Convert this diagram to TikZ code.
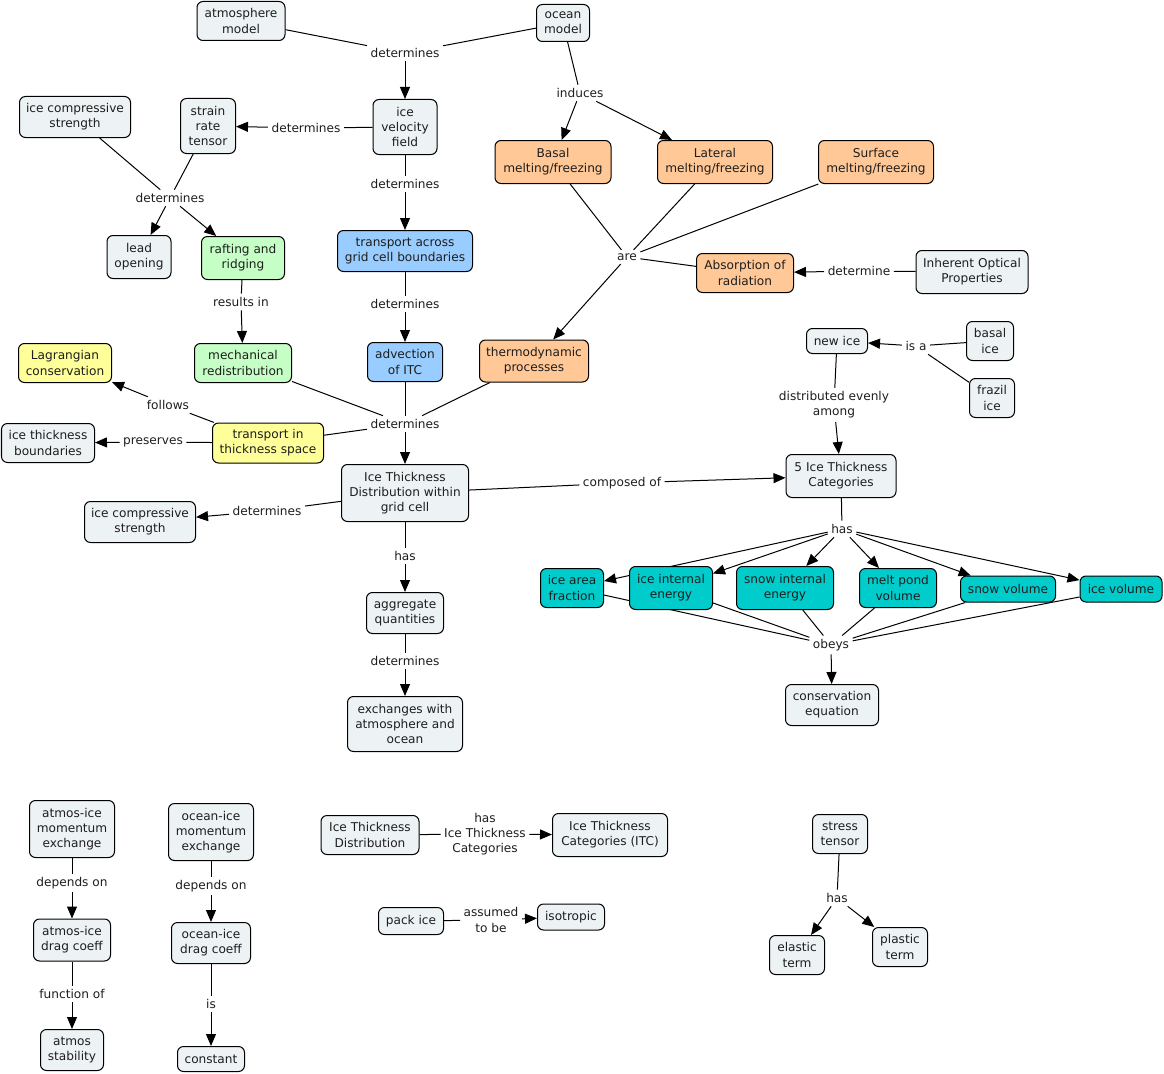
\documentclass[tikz,border=0pt]{standalone}
\usepackage{fontspec}
\setmainfont{DejaVu Sans}
\usetikzlibrary{arrows.meta}
\pgfdeclarelayer{bg}
\pgfsetlayers{bg,main}
\definecolor{cgray}{RGB}{237,243,245}
\definecolor{corange}{RGB}{255,200,150}
\definecolor{cgreen}{RGB}{198,255,198}
\definecolor{cblue}{RGB}{153,204,255}
\definecolor{cyellow}{RGB}{255,255,153}
\definecolor{cteal}{RGB}{0,204,204}
\definecolor{txt}{RGB}{30,30,30}
\tikzset{
  cn/.style={draw=black, line width=0.75pt, rounded corners=4.5pt, fill=cgray, align=center,
    inner sep=1pt, font=\fontsize{9.1}{11.3}\selectfont, text=txt},
  sz/.style 2 args={minimum width={#1*0.75pt}, minimum height={#2*0.75pt}},
  lb/.style={align=center, inner sep=2.5pt, font=\fontsize{9.1}{11.3}\selectfont, text=txt},
  ln/.style={line width=0.75pt, draw=black},
  ar/.style={ln, -{Triangle[length=9pt,width=7.5pt]}},
}
\begin{document}
\begin{tikzpicture}[x=0.75pt,y=-0.75pt]
\useasboundingbox (0,0) rectangle (1164,1074);
% ---------- concept nodes ----------
\node[cn, sz={88}{39}] (atm) at (241,21) {atmosphere\\model};
\node[cn, sz={53}{37}] (ocean) at (563,23) {ocean\\model};
\node[cn, sz={64}{55}] (ivf) at (405,127) {ice\\velocity\\field};
\node[cn, sz={55}{55}] (srt) at (208,126) {strain\\rate\\tensor};
\node[cn, sz={111}{41}] (ics1) at (75,117) {ice compressive\\strength};
\node[cn, sz={64}{43}] (lead) at (139,257) {lead\\opening};
\node[cn, sz={83}{43}, fill=cgreen] (raft) at (243,258) {rafting and\\ridging};
\node[cn, sz={116}{43}, fill=corange] (basal) at (553,162) {Basal\\melting/freezing};
\node[cn, sz={115}{43}, fill=corange] (lateral) at (715,162) {Lateral\\melting/freezing};
\node[cn, sz={115}{43}, fill=corange] (surface) at (876,162) {Surface\\melting/freezing};
\node[cn, sz={135}{41}, fill=cblue] (tagcb) at (405,251) {transport across\\grid cell boundaries};
\node[cn, sz={97}{39}, fill=corange] (absr) at (745,273) {Absorption of\\radiation};
\node[cn, sz={112}{43}] (iop) at (972,272) {Inherent Optical\\Properties};
\node[cn, sz={97}{39}, fill=cgreen] (mech) at (243,363) {mechanical\\redistribution};
\node[cn, sz={75}{39}, fill=cblue] (adv) at (405,362) {advection\\of ITC};
\node[cn, sz={109}{42}, fill=corange] (thermo) at (534,361) {thermodynamic\\processes};
\node[cn, sz={93}{39}, fill=cyellow] (lagr) at (65,363) {Lagrangian\\conservation};
\node[cn, sz={111}{40}, fill=cyellow] (tts) at (268,443) {transport in\\thickness space};
\node[cn, sz={93}{39}] (itb) at (48,443) {ice thickness\\boundaries};
\node[cn, sz={127}{57}] (itd) at (405,493) {Ice Thickness\\Distribution within\\grid cell};
\node[cn, sz={110}{43}] (five) at (841,476) {5 Ice Thickness\\Categories};
\node[cn, sz={61}{25}] (newice) at (837,341) {new ice};
\node[cn, sz={47}{39}] (basalice) at (990,341) {basal\\ice};
\node[cn, sz={45}{39}] (frazil) at (992,398) {frazil\\ice};
\node[cn, sz={111}{41}] (ics2) at (140,522) {ice compressive\\strength};
\node[cn, sz={77}{41}] (agg) at (405,613) {aggregate\\quantities};
\node[cn, sz={115}{55}] (exch) at (405,724) {exchanges with\\atmosphere and\\ocean};
\node[cn, sz={63}{39}, fill=cteal] (iaf) at (572,588) {ice area\\fraction};
\node[cn, sz={83}{43}, fill=cteal] (iie) at (671,588) {ice internal\\energy};
\node[cn, sz={97}{43}, fill=cteal] (sie) at (785,588) {snow internal\\energy};
\node[cn, sz={77}{39}, fill=cteal] (mpv) at (898,588) {melt pond\\volume};
\node[cn, sz={95}{26}, fill=cteal] (sv) at (1008,589) {snow volume};
\node[cn, sz={82}{26}, fill=cteal] (iv) at (1121,589) {ice volume};
\node[cn, sz={93}{41}] (cons) at (832,705) {conservation\\equation};
\node[cn, sz={85}{57}] (aim) at (72,829) {atmos-ice\\momentum\\exchange};
\node[cn, sz={77}{42}] (aid) at (72,940) {atmos-ice\\drag coeff};
\node[cn, sz={63}{41}] (ast) at (72,1050) {atmos\\stability};
\node[cn, sz={85}{57}] (oim) at (211,832) {ocean-ice\\momentum\\exchange};
\node[cn, sz={79}{41}] (oid) at (211,943) {ocean-ice\\drag coeff};
\node[cn, sz={67}{25}] (const) at (211,1059) {constant};
\node[cn, sz={98}{39}] (itd2) at (370,835) {Ice Thickness\\Distribution};
\node[cn, sz={115}{43}] (itc) at (610,835) {Ice Thickness\\Categories (ITC)};
\node[cn, sz={65}{27}] (pack) at (411,921) {pack ice};
\node[cn, sz={67}{26}] (iso) at (571,917) {isotropic};
\node[cn, sz={55}{39}] (st) at (840,834) {stress\\tensor};
\node[cn, sz={55}{39}] (el) at (797,955) {elastic\\term};
\node[cn, sz={55}{39}] (pl) at (900,947) {plastic\\term};
% ---------- linking phrases ----------
\node[lb] (ldA) at (405,53) {determines};
\node[lb] (ldB) at (306,128) {determines};
\node[lb] (ldC) at (170,198) {determines};
\node[lb] (lind) at (580,93) {induces};
\node[lb] (ldD) at (405,184) {determines};
\node[lb] (lare) at (627,257) {are};
\node[lb] (ldete) at (859,271) {determine};
\node[lb] (lres) at (241,302) {results in};
\node[lb] (ldE) at (405,304) {determines};
\node[lb] (lfol) at (168,405) {follows};
\node[lb] (lpre) at (153,442) {preserves};
\node[lb] (ldF) at (405,424) {determines};
\node[lb] (lcomp) at (622,483) {composed of};
\node[lb] (ldG) at (267,511) {determines};
\node[lb] (lhasA) at (405,556) {has};
\node[lb] (ldH) at (405,661) {determines};
\node[lb] (lisa) at (916,346) {is a};
\node[lb] (ldist) at (834,405) {distributed evenly\\among};
\node[lb] (lhasB) at (842,529) {has};
\node[lb] (lobeys) at (831,645) {obeys};
\node[lb] (ldep1) at (72,883) {depends on};
\node[lb] (lfun) at (72,994) {function of};
\node[lb] (ldep2) at (211,886) {depends on};
\node[lb] (lis) at (211,1004) {is};
\node[lb] (lhitc) at (485,834) {has\\Ice Thickness\\Categories};
\node[lb] (lass) at (491,920) {assumed\\to be};
\node[lb] (lhasC) at (837,898) {has};
% ---------- connectors ----------
\begin{pgfonlayer}{bg}
\draw[ln] (atm) -- (ldA); \draw[ln] (ocean) -- (ldA); \draw[ar] (ldA) -- (ivf);
\draw[ln] (ivf) -- (ldB); \draw[ar] (ldB) -- (srt);
\draw[ln] (ics1) -- (ldC); \draw[ln] (srt) -- (ldC);
\draw[ar] (ldC) -- (lead); \draw[ar] (ldC) -- (raft);
\draw[ln] (ocean) -- (lind); \draw[ar] (lind) -- (basal); \draw[ar] (lind) -- (lateral);
\draw[ln] (ivf) -- (ldD); \draw[ar] (ldD) -- (tagcb);
\draw[ln] (basal) -- (lare); \draw[ln] (lateral) -- (lare); \draw[ln] (surface) -- (lare);
\draw[ln] (absr) -- (lare); \draw[ar] (lare) -- (thermo);
\draw[ln] (iop) -- (ldete); \draw[ar] (ldete) -- (absr);
\draw[ln] (raft) -- (lres); \draw[ar] (lres) -- (mech);
\draw[ln] (tagcb) -- (ldE); \draw[ar] (ldE) -- (adv);
\draw[ln] (tts) -- (lfol); \draw[ar] (lfol) -- (lagr);
\draw[ln] (tts) -- (lpre); \draw[ar] (lpre) -- (itb);
\draw[ln] (mech) -- (ldF); \draw[ln] (adv) -- (ldF); \draw[ln] (thermo) -- (ldF);
\draw[ln] (tts) -- (ldF); \draw[ar] (ldF) -- (itd);
\draw[ln] (itd) -- (lcomp); \draw[ar] (lcomp) -- (five);
\draw[ln] (itd) -- (ldG); \draw[ar] (ldG) -- (ics2);
\draw[ln] (itd) -- (lhasA); \draw[ar] (lhasA) -- (agg);
\draw[ln] (agg) -- (ldH); \draw[ar] (ldH) -- (exch);
\draw[ln] (basalice) -- (lisa); \draw[ln] (frazil) -- (lisa); \draw[ar] (lisa) -- (newice);
\draw[ln] (newice) -- (ldist); \draw[ar] (ldist) -- (five);
\draw[ln] (five) -- (lhasB);
\foreach \t in {iaf,iie,sie,mpv,sv,iv} {
  \draw[ar] (lhasB) -- (\t);
  \draw[ln] (\t) -- (lobeys);
}
\draw[ar] (lobeys) -- (cons);
\draw[ln] (aim) -- (ldep1); \draw[ar] (ldep1) -- (aid);
\draw[ln] (aid) -- (lfun); \draw[ar] (lfun) -- (ast);
\draw[ln] (oim) -- (ldep2); \draw[ar] (ldep2) -- (oid);
\draw[ln] (oid) -- (lis); \draw[ar] (lis) -- (const);
\draw[ln] (itd2) -- (lhitc); \draw[ar] (lhitc) -- (itc);
\draw[ln] (pack) -- (lass); \draw[ar] (lass) -- (iso);
\draw[ln] (st) -- (lhasC); \draw[ar] (lhasC) -- (el); \draw[ar] (lhasC) -- (pl);
\end{pgfonlayer}
\end{tikzpicture}
\end{document}
